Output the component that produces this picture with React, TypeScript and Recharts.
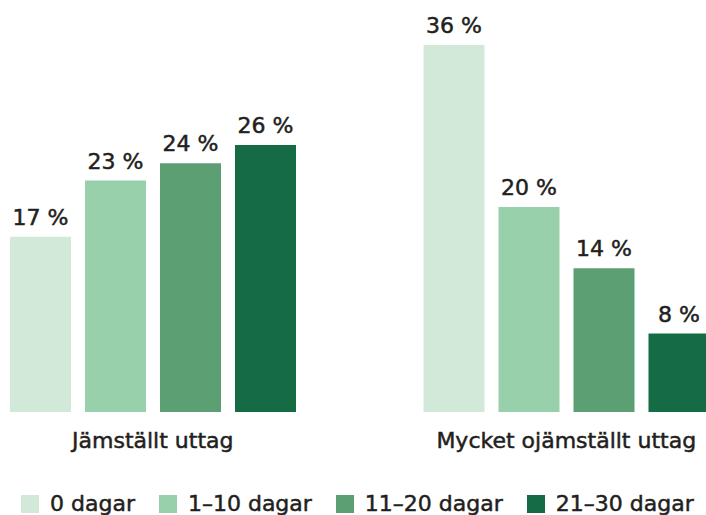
import React from 'react';
import { BarChart, Bar, XAxis, YAxis, Legend, LabelList } from 'recharts';

const categories = ['Jämställt uttag', 'Mycket ojämställt uttag'];
const seriesNames = ['0 dagar', '1–10 dagar', '11–20 dagar', '21–30 dagar'];
const seriesColors = ['#d2e9da', '#99d0ac', '#5b9f72', '#146b44'];
const jamstallt = [17.2, 22.7, 24.4, 26.2];
const ojamstallt = [36, 20.1, 14.1, 7.7];
const groupValues = [jamstallt, ojamstallt];

const data = categories.map((name, ci) => {
  const row: Record<string, string | number> = { name };
  seriesNames.forEach((_, si) => {
    row['s' + si] = groupValues[ci][si];
  });
  return row;
});

const FONT = "'DejaVu Sans', sans-serif";
const TEXT = '#231f20';
const STROKE = 0.5;

const CategoryTick = (props: any) => {
  const { x, y, payload } = props;
  return (
    <text
      x={x}
      y={y + 36}
      textAnchor="middle"
      fontFamily={FONT}
      fontSize={22}
      fill={TEXT}
      stroke={TEXT}
      strokeWidth={STROKE}
    >
      {payload.value}
    </text>
  );
};

const LegendContent = (props: any) => {
  const payload = [...(props.payload || [])].sort(
    (a: any, b: any) => seriesNames.indexOf(a.value) - seriesNames.indexOf(b.value)
  );
  return (
    <div
      style={{
        display: 'flex',
        alignItems: 'center',
        fontFamily: FONT,
        fontSize: 22,
        color: TEXT,
        WebkitTextStroke: `${STROKE}px ${TEXT}`,
      }}
    >
      {payload.map((p: any, i: number) => (
        <div key={i} style={{ display: 'flex', alignItems: 'center', marginRight: 24 }}>
          <div style={{ width: 18, height: 18, background: p.color, marginRight: 11 }} />
          <span style={{ lineHeight: '22px', whiteSpace: 'nowrap' }}>{p.value}</span>
        </div>
      ))}
    </div>
  );
};

export default function App() {
  return (
    <div style={{ position: 'fixed', left: 0, top: 0, width: 706, height: 515, overflow: 'hidden', background: '#fff' }}>
      <div style={{ position: 'absolute', left: -54, top: 0 }}>
        <BarChart
          width={827}
          height={515}
          data={data}
          margin={{ top: 45, right: 0, bottom: 0, left: 0 }}
          barSize={61}
          barGap={14}
        >
          <XAxis
            dataKey="name"
            axisLine={false}
            tickLine={false}
            tickSize={0}
            tickMargin={0}
            height={103}
            tick={<CategoryTick />}
            interval={0}
          />
          <YAxis hide domain={[0, 36]} />
          <Legend
            layout="horizontal"
            verticalAlign="middle"
            align="center"
            itemSorter={null as any}
            content={<LegendContent />}
            wrapperStyle={{ top: 493, left: 75, width: 720, height: 24 }}
          />
          {seriesNames.map((n, si) => (
            <Bar key={n} dataKey={'s' + si} name={n} fill={seriesColors[si]} isAnimationActive={false}>
              <LabelList
                dataKey={'s' + si}
                position="top"
                offset={12}
                formatter={(v: any) => `${Math.round(Number(v))} %`}
                style={{ fontFamily: FONT, fontSize: 22, fill: TEXT, stroke: TEXT, strokeWidth: STROKE }}
              />
            </Bar>
          ))}
        </BarChart>
      </div>
    </div>
  );
}
